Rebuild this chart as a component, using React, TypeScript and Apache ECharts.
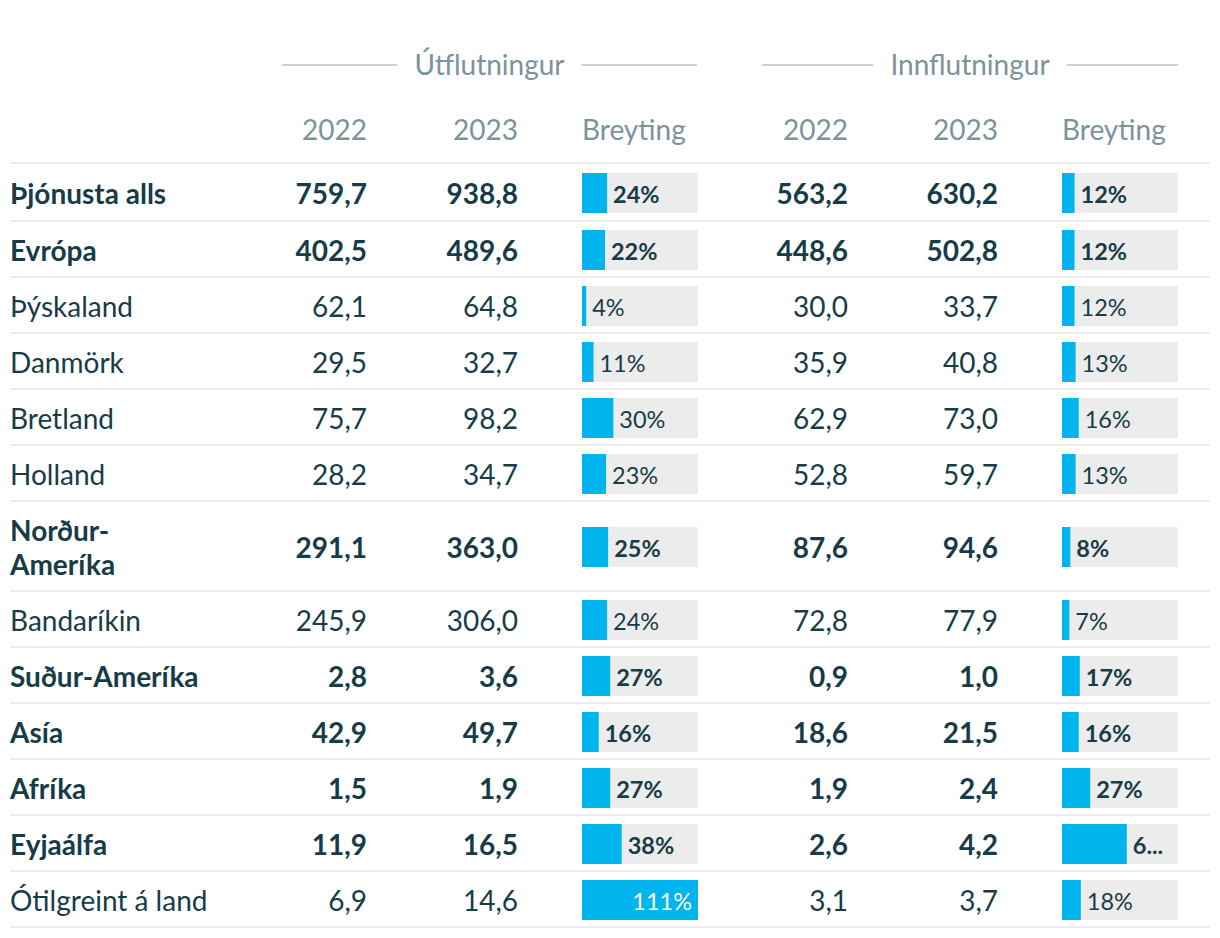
import React, { useEffect, useRef } from "react";
import * as echarts from "echarts";

const regions = [
  "Þjónusta alls", "Evrópa", "Þýskaland", "Danmörk", "Bretland", "Holland",
  "Norður-Ameríka", "Bandaríkin", "Suður-Ameríka", "Asía", "Afríka", "Eyjaálfa", "Ótilgreint á land",
];
const boldRows = [true, true, false, false, false, false, true, false, true, true, true, true, false];
const export2022 = [759.7, 402.5, 62.1, 29.5, 75.7, 28.2, 291.1, 245.9, 2.8, 42.9, 1.5, 11.9, 6.9];
const export2023 = [938.8, 489.6, 64.8, 32.7, 98.2, 34.7, 363.0, 306.0, 3.6, 49.7, 1.9, 16.5, 14.6];
const exportChange = [24, 22, 4, 11, 30, 23, 25, 24, 27, 16, 27, 38, 111];
const import2022 = [563.2, 448.6, 30.0, 35.9, 62.9, 52.8, 87.6, 72.8, 0.9, 18.6, 1.9, 2.6, 3.1];
const import2023 = [630.2, 502.8, 33.7, 40.8, 73.0, 59.7, 94.6, 77.9, 1.0, 21.5, 2.4, 4.2, 3.7];
const importChange = [12, 12, 12, 13, 16, 13, 8, 7, 17, 16, 27, 62, 18];
const groupTitles = ["Útflutningur", "Innflutningur"];
const columnTitles = ["2022", "2023", "Breyting"];

// layout (style constants)
const FONT = "Lato, 'Noto Sans', sans-serif";
const DARK = "#173c47";
const MUTED = "#7b939a";
const BLUE = "#00b4ee";
const BG = "#ececec";
const SEP = "#ededed";
const TABLE_TOP = 163;
const ROW_H = 56;
const FIRST_ROW_H = 58;
const TALL_ROW_H = 90;
const BAR_H = 40;
const FS = 28;
const HFS = 28;
const PFS = 23.5;

const fmt = (v: number) => v.toFixed(1).replace(".", ",");
const displayName = (n: string) => (n.length > 13 && n.includes("-") ? n.replace("-", "-\n") : n);
const rowHeight = (i: number) =>
  i === 0 ? FIRST_ROW_H : regions[i].length > 13 && regions[i].includes("-") ? TALL_ROW_H : ROW_H;
const rowTop = (i: number) => {
  let t = TABLE_TOP;
  for (let k = 0; k < i; k++) t += rowHeight(k);
  return t;
};
const tableBottom = rowTop(regions.length);
const maxChange = Math.max(...exportChange, ...importChange);

const sections = [
  { left: 582, width: 116, right2022: 367, right2023: 518, v22: export2022, v23: export2023, ch: exportChange, withNames: true },
  { left: 1062, width: 116, right2022: 848, right2023: 998, v22: import2022, v23: import2023, ch: importChange, withNames: false },
];

export default function App() {
  const ref = useRef<HTMLDivElement>(null);
  useEffect(() => {
    if (!ref.current) return;
    const chart = echarts.init(ref.current, null, { renderer: "svg" });

    const makeRender = (s: typeof sections[number]) => (params: any, api: any) => {
      const i = params.dataIndex;
      const top = rowTop(i);
      const h = rowHeight(i);
      const cy = top + h / 2 + 1;
      const bold = boldRows[i];
      const weight = bold ? "bold" : "normal";
      const children: any[] = [];
      if (s.withNames) {
        if (i === 0) {
          children.push({ type: "line", shape: { x1: 10, y1: top, x2: 1210, y2: top }, style: { stroke: SEP, lineWidth: 2 } });
        }
        children.push({ type: "line", shape: { x1: 10, y1: top + h, x2: 1210, y2: top + h }, style: { stroke: SEP, lineWidth: 2 } });
        children.push({
          type: "text",
          style: { x: 10, y: cy, text: displayName(regions[i]), fill: DARK, fontSize: FS, fontWeight: weight, fontFamily: FONT, align: "left", verticalAlign: "middle", lineHeight: 34 },
        });
      }
      children.push({
        type: "text",
        style: { x: s.right2022, y: cy, text: fmt(s.v22[i]), fill: DARK, fontSize: FS, fontWeight: weight, fontFamily: FONT, align: "right", verticalAlign: "middle" },
      });
      children.push({
        type: "text",
        style: { x: s.right2023, y: cy, text: fmt(s.v23[i]), fill: DARK, fontSize: FS, fontWeight: weight, fontFamily: FONT, align: "right", verticalAlign: "middle" },
      });
      const x0 = api.coord([0, i])[0];
      const x1 = api.coord([api.value(0), i])[0];
      const xMax = api.coord([maxChange, i])[0];
      const by = cy - BAR_H / 2;
      children.push({ type: "rect", shape: { x: x0, y: by, width: xMax - x0, height: BAR_H }, style: { fill: BG } });
      children.push({ type: "rect", shape: { x: x0, y: by, width: x1 - x0, height: BAR_H }, style: { fill: BLUE } });
      const label = api.value(0) + "%";
      const inside = (x1 - x0) / (xMax - x0) > 0.85;
      if (inside) {
        children.push({
          type: "text",
          style: { x: x1 - 6, y: cy + 1, text: label, fill: "#ffffff", fontSize: PFS, fontWeight: weight, fontFamily: FONT, align: "right", verticalAlign: "middle" },
        });
      } else {
        children.push({
          type: "text",
          style: {
            x: x1 + 6, y: cy + 1, text: label, fill: DARK, fontSize: PFS, fontWeight: weight, fontFamily: FONT,
            align: "left", verticalAlign: "middle", width: xMax - x1 - 8, overflow: "truncate", ellipsis: "...",
          },
        });
      }
      return { type: "group", children };
    };

    const graphic: any[] = [];
    const groups = [
      { l: 282, r: 697, half: 92, cols: [367, 518, 582] },
      { l: 762, r: 1178, half: 96.5, cols: [848, 998, 1062] },
    ];
    groups.forEach((g, gi) => {
      const cx = (g.l + g.r) / 2;
      graphic.push({ type: "line", shape: { x1: g.l, y1: 65, x2: cx - g.half, y2: 65 }, style: { stroke: "#b9c6c9", lineWidth: 1.5 } });
      graphic.push({ type: "line", shape: { x1: cx + g.half, y1: 65, x2: g.r, y2: 65 }, style: { stroke: "#b9c6c9", lineWidth: 1.5 } });
      graphic.push({
        type: "text", x: cx, y: 64,
        style: { text: groupTitles[gi], fill: MUTED, fontSize: HFS, fontFamily: FONT, align: "center", verticalAlign: "middle" },
      });
      columnTitles.forEach((t, ci) => {
        graphic.push({
          type: "text", x: g.cols[ci], y: 129,
          style: { text: t, fill: MUTED, fontSize: HFS, fontFamily: FONT, align: ci < 2 ? "right" : "left", verticalAlign: "middle" },
        });
      });
    });

    chart.setOption({
      animation: false,
      graphic,
      grid: sections.map((s) => ({ left: s.left, width: s.width, top: TABLE_TOP, height: tableBottom - TABLE_TOP })),
      xAxis: sections.map((_, k) => ({ type: "value", gridIndex: k, min: 0, max: maxChange, show: false })),
      yAxis: sections.map((_, k) => ({ type: "category", gridIndex: k, data: regions, inverse: true, show: false })),
      series: sections.map((s, k) => ({
        type: "custom",
        xAxisIndex: k,
        yAxisIndex: k,
        renderItem: makeRender(s),
        data: s.ch.map((c, i) => [c, i]),
        encode: { x: 0, y: 1 },
        clip: false,
      })),
    });
    return () => chart.dispose();
  }, []);
  return <div ref={ref} style={{ position: "absolute", left: 0, top: 0, width: 1220, height: 938 }} />;
}
